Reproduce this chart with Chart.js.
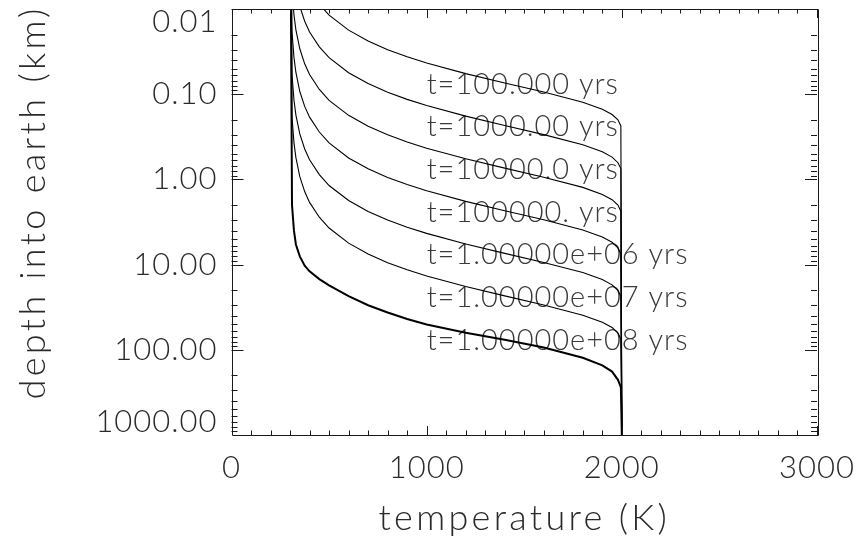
<!DOCTYPE html>
<html>
<head>
<meta charset="utf-8">
<script src="https://cdn.jsdelivr.net/npm/chart.js@4/dist/chart.umd.min.js"></script>
<style>
  html, body { margin: 0; padding: 0; background: #fff; }
  #wrap { width: 860px; height: 542px; }
</style>
</head>
<body>
<div id="wrap"><canvas id="chart" width="860" height="542"></canvas></div>
<script>
// temperature (K) at which each depth was read
const temperature = [300, 310, 320, 330, 350, 375, 400, 450, 500, 600, 700, 800, 900, 1000, 1200, 1400, 1600, 1800, 1900, 1950, 1980, 1995, 2000];

// depth into earth (km) for each cooling time
const depth100 = [0.0001, 0.00059, 0.00117, 0.00176, 0.0029, 0.0044, 0.0059, 0.0088, 0.0118, 0.0177, 0.0238, 0.030, 0.0364, 0.043, 0.0573, 0.0738, 0.0943, 0.124, 0.150, 0.173, 0.20, 0.236, 1000];
const depth1e3 = [0.0001, 0.00185, 0.0037, 0.00556, 0.0093, 0.0139, 0.0186, 0.0278, 0.0372, 0.056, 0.075, 0.095, 0.115, 0.136, 0.181, 0.233, 0.298, 0.393, 0.475, 0.547, 0.637, 0.746, 1000];
const depth1e4 = [0.0001, 0.0059, 0.0117, 0.0176, 0.0293, 0.044, 0.0587, 0.088, 0.118, 0.177, 0.238, 0.300, 0.364, 0.430, 0.573, 0.738, 0.943, 1.24, 1.50, 1.73, 2.0, 2.36, 1000];
const depth1e5 = [0.0001, 0.0185, 0.037, 0.0556, 0.093, 0.139, 0.186, 0.278, 0.372, 0.56, 0.75, 0.95, 1.15, 1.36, 1.81, 2.33, 2.98, 3.93, 4.75, 5.47, 6.37, 7.46, 1000];
const depth1e6 = [0.0001, 0.059, 0.117, 0.176, 0.293, 0.44, 0.587, 0.88, 1.18, 1.77, 2.38, 3.0, 3.64, 4.3, 5.73, 7.38, 9.43, 12.4, 15.0, 17.3, 20.1, 23.6, 1000];
const depth1e7 = [0.0001, 0.185, 0.37, 0.556, 0.93, 1.39, 1.86, 2.78, 3.72, 5.6, 7.5, 9.5, 11.5, 13.6, 18.1, 23.3, 29.8, 39.3, 47.5, 54.7, 63.7, 74.6, 1000];
const depth1e8 = [0.0001, 2.0, 4.0, 5.8, 8.0, 10.3, 12.0, 14.8, 17.5, 23.5, 30, 36.5, 43.5, 50.5, 63, 76, 94, 124, 152, 180, 225, 275, 1000];

const timeLabels = ["t=100.000 yrs", "t=1000.00 yrs", "t=10000.0 yrs", "t=100000. yrs",
                    "t=1.00000e+06 yrs", "t=1.00000e+07 yrs", "t=1.00000e+08 yrs"];
const labelTemp = 1000;
const labelDepths = [0.0769, 0.243, 0.766, 2.44, 7.65, 24.5, 78.9];

const xTicks = [0, 1000, 2000, 3000];
const yTicks = [0.01, 0.1, 1, 10, 100, 1000];

const allDepths = [depth100, depth1e3, depth1e4, depth1e5, depth1e6, depth1e7, depth1e8];

const FONT = 'Lato, "DejaVu Sans", sans-serif';
const INK = '#1a1a1a';
const TEXT = '#2a2a2a';

// IDL style box with inward ticks on every side, and the time labels
const idlFrame = {
    id: 'idlFrame',
    beforeDraw(chart) {
        // axis titles are drawn first, with wide letter spacing
        chart.ctx.letterSpacing = '3.3px';
    },
    beforeDatasetsDraw(chart) {
        const { ctx, scales: { x, y } } = chart;
        ctx.save();
        ctx.letterSpacing = '1px';
        ctx.font = '300 29px ' + FONT;
        ctx.fillStyle = '#3a3a3a';
        ctx.textBaseline = 'middle';
        ctx.textAlign = 'left';
        timeLabels.forEach((t, i) => {
            ctx.fillText(t, x.getPixelForValue(labelTemp), y.getPixelForValue(labelDepths[i]));
        });
        ctx.restore();
    },
    afterDatasetsDraw(chart) {
        const { ctx, chartArea: a, scales: { x, y } } = chart;
        const snap = v => Math.round(v) + 0.5;
        ctx.save();
        ctx.strokeStyle = INK;
        ctx.lineWidth = 1;
        ctx.beginPath();
        ctx.rect(snap(a.left), snap(a.top), Math.round(a.right - a.left), Math.round(a.bottom - a.top));
        for (let v = xTicks[0]; v <= xTicks[xTicks.length - 1]; v += 100) {
            const px = snap(x.getPixelForValue(v));
            const len = xTicks.includes(v) ? 9 : 4.5;
            ctx.moveTo(px, a.bottom); ctx.lineTo(px, a.bottom - len);
            ctx.moveTo(px, a.top); ctx.lineTo(px, a.top + len);
        }
        for (let i = 0; i < yTicks.length - 1; i++) {
            for (let m = 1; m < 10; m++) {
                const py = snap(y.getPixelForValue(yTicks[i] * m));
                const len = m === 1 ? 12 : 6;
                ctx.moveTo(a.left, py); ctx.lineTo(a.left + len, py);
                ctx.moveTo(a.right, py); ctx.lineTo(a.right - len, py);
            }
        }
        ctx.stroke();
        ctx.restore();
        // tick labels (z: 1) come after this
        ctx.letterSpacing = '1px';
    }
};

const datasets = allDepths.map((d, i) => ({
    label: timeLabels[i],
    data: temperature.map((t, j) => ({ x: t, y: d[j] })),
    showLine: true,
    borderColor: '#000',
    borderWidth: i === allDepths.length - 1 ? 2 : 1.1,
    pointRadius: 0,
    tension: 0
}));

new Chart(document.getElementById('chart'), {
    type: 'scatter',
    data: { datasets },
    plugins: [idlFrame],
    options: {
        responsive: false,
        animation: false,
        layout: { padding: { left: 0, top: 9, right: 43, bottom: 0 } },
        plugins: { legend: { display: false }, tooltip: { enabled: false } },
        scales: {
            x: {
                type: 'linear',
                min: 0,
                max: 3000,
                afterBuildTicks: s => { s.ticks = xTicks.map(v => ({ value: v })); },
                afterFit: s => { s.height = 107; s.paddingLeft = 0; s.paddingRight = 0; },
                grid: { display: false, drawTicks: false },
                border: { display: false },
                ticks: {
                    z: 1,
                    padding: 14,
                    color: TEXT,
                    font: { family: FONT, size: 31, weight: 300 },
                    callback: v => String(v)
                },
                title: {
                    display: true,
                    text: 'temperature (K)',
                    color: TEXT,
                    font: { family: FONT, size: 36, weight: 300 },
                    padding: { top: 0, bottom: 2 }
                }
            },
            y: {
                type: 'logarithmic',
                reverse: true,
                min: yTicks[0],
                max: yTicks[yTicks.length - 1],
                afterBuildTicks: s => { s.ticks = yTicks.map(v => ({ value: v })); },
                afterFit: s => { s.width = 231.5; s.paddingTop = 0; s.paddingBottom = 0; },
                grid: { display: false, drawTicks: false },
                border: { display: false },
                ticks: {
                    z: 1,
                    padding: 14,
                    color: TEXT,
                    font: { family: FONT, size: 31, weight: 300, lineHeight: '26px' },
                    // end labels are pushed inside the box, as IDL does
                    callback: v => {
                        const s = Number(v).toFixed(2);
                        if (v === yTicks[0]) return ['', s];
                        if (v === yTicks[yTicks.length - 1]) return [s, ''];
                        return s;
                    }
                },
                title: {
                    display: true,
                    text: '   depth into earth (km)',
                    color: TEXT,
                    font: { family: FONT, size: 36, weight: 300 },
                    padding: { top: 12, bottom: 0 }
                }
            }
        }
    }
});
</script>
</body>
</html>
